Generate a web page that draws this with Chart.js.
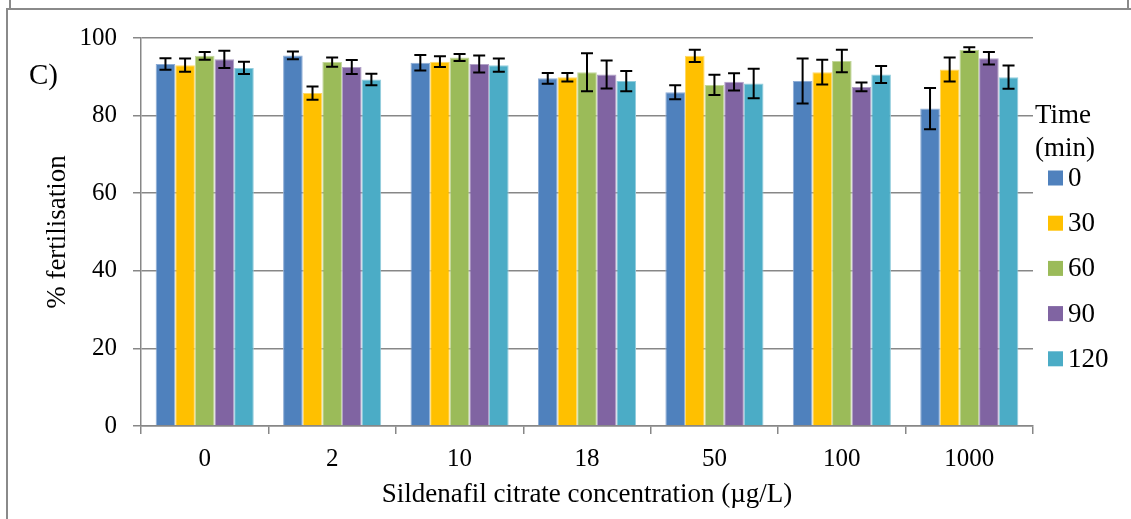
<!DOCTYPE html>
<html>
<head>
<meta charset="utf-8">
<title>Fertilisation vs sildenafil citrate concentration</title>
<script src="https://cdn.jsdelivr.net/npm/chart.js@4/dist/chart.umd.min.js"></script>
<style>
  html, body { margin: 0; padding: 0; background: #ffffff; }
  #wrap { position: relative; width: 1131px; height: 519px; overflow: hidden; }
  .frame { position: absolute; background: #8a8a8a; }
  #chartBox { position: absolute; left: 0; top: 0; width: 1131px; height: 519px; }
</style>
</head>
<body>
<div id="wrap">
  <!-- panel frames -->
  <div class="frame" style="left:9px; top:0; width:2px; height:9px;"></div>
  <div class="frame" style="left:1127px; top:0; width:2px; height:9px;"></div>
  <div class="frame" style="left:7px; top:8px; width:1124px; height:2px;"></div>
  <div class="frame" style="left:6px; top:8px; width:2px; height:511px;"></div>
  <div id="chartBox"><canvas id="chart"></canvas></div>
</div>
<script>
// Sildenafil citrate concentrations (µg/L)
const concentrations = ['0', '2', '10', '18', '50', '100', '1000'];

// Exposure times (min)
const times = ['0', '30', '60', '90', '120'];

// Mean % fertilisation per exposure time
const fert0   = [93.3, 95.5, 93.6, 89.6, 86.0, 88.9, 81.8];
const fert30  = [93.0, 85.8, 93.9, 89.9, 95.4, 91.2, 91.9];
const fert60  = [95.4, 93.8, 95.0, 91.2, 87.9, 94.1, 97.0];
const fert90  = [94.5, 92.5, 93.3, 90.6, 88.7, 87.4, 94.8];
const fert120 = [92.3, 89.3, 93.0, 88.9, 88.3, 90.6, 89.9];

// Standard errors
const err0   = [1.5, 1.0, 2.0, 1.4, 1.8, 5.8, 5.3];
const err30  = [1.7, 1.7, 1.4, 1.1, 1.6, 3.2, 3.1];
const err60  = [1.0, 1.2, 0.9, 4.9, 2.6, 2.9, 0.6];
const err90  = [2.2, 1.8, 2.2, 3.6, 2.2, 1.1, 1.6];
const err120 = [1.6, 1.5, 1.7, 2.6, 3.8, 2.2, 3.0];

// Y axis range
const yMin = 0, yMax = 100, yStep = 20;

const seriesValues = [fert0, fert30, fert60, fert90, fert120];
const seriesErrors = [err0, err30, err60, err90, err120];
const fills   = ['#4F81BD', '#FFC000', '#9BBB59', '#8064A2', '#4BACC6'];
const edges   = ['#8EADD6', '#FFD966', '#C2D69B', '#B2A1C7', '#93CDDD'];

const serif = '"Liberation Serif", "Times New Roman", serif';

// Error bars drawn from each bar's value and its error through the y scale
const errorBars = {
  id: 'errorBars',
  afterDatasetsDraw(chart) {
    const ctx = chart.ctx;
    const yScale = chart.scales.y;
    ctx.save();
    ctx.strokeStyle = '#000000';
    ctx.lineWidth = 2;
    chart.data.datasets.forEach((ds, di) => {
      const meta = chart.getDatasetMeta(di);
      meta.data.forEach((bar, i) => {
        const v = ds.data[i];
        const e = ds.errors[i];
        const x = bar.x;
        const yHi = yScale.getPixelForValue(v + e);
        const yLo = yScale.getPixelForValue(v - e);
        const cap = 6;
        ctx.beginPath();
        ctx.moveTo(x, yHi); ctx.lineTo(x, yLo);
        ctx.moveTo(x - cap, yHi); ctx.lineTo(x + cap, yHi);
        ctx.moveTo(x - cap, yLo); ctx.lineTo(x + cap, yLo);
        ctx.stroke();
      });
    });
    ctx.restore();
  }
};

// Panel label and the time legend on the right of the plot
const panelDecor = {
  id: 'panelDecor',
  afterDraw(chart) {
    const ctx = chart.ctx;
    const area = chart.chartArea;
    ctx.save();
    ctx.fillStyle = '#000000';
    ctx.font = '29px ' + serif;
    ctx.textAlign = 'left';
    ctx.textBaseline = 'middle';
    ctx.fillText('C)', 29, 76);

    const lx = area.right + 2;
    ctx.font = '27px ' + serif;
    ctx.fillText('Time', lx, 116);
    ctx.fillText('(min)', lx, 149);

    chart.data.datasets.forEach((ds, di) => {
      const cy = 178 + di * 45.2;
      ctx.fillStyle = ds.backgroundColor;
      ctx.fillRect(area.right + 15, cy - 7.5, 15, 15);
      ctx.fillStyle = '#000000';
      ctx.fillText(ds.label, area.right + 35, cy + 1);
    });
    ctx.restore();
  }
};

const datasets = times.map((t, i) => ({
  label: t,
  data: seriesValues[i],
  errors: seriesErrors[i],
  backgroundColor: fills[i],
  borderColor: edges[i],
  borderWidth: 1,
  categoryPercentage: 0.77,
  barPercentage: 1.0
}));

new Chart(document.getElementById('chart'), {
  type: 'bar',
  data: { labels: concentrations, datasets },
  options: {
    responsive: true,
    maintainAspectRatio: false,
    animation: false,
    layout: { padding: { top: 38, right: 98, bottom: 0, left: 0 } },
    plugins: {
      legend: { display: false },
      tooltip: { enabled: false }
    },
    scales: {
      x: {
        offset: true,
        afterFit(scale) { scale.height = 93; },
        grid: {
          offset: true,
          drawOnChartArea: false,
          drawTicks: true,
          tickLength: 8,
          color: '#878787',
          lineWidth: 1.5
        },
        border: { color: '#878787', width: 1.5 },
        ticks: {
          color: '#000000',
          font: { family: serif, size: 25 },
          padding: 10,
          maxRotation: 0
        },
        title: {
          display: true,
          text: 'Sildenafil citrate concentration (µg/L)',
          color: '#000000',
          font: { family: serif, size: 27 },
          padding: { top: 0, bottom: 8 }
        }
      },
      y: {
        min: yMin,
        max: yMax,
        afterFit(scale) { scale.width = 141; },
        grid: {
          color: '#878787',
          lineWidth: 1.5,
          drawTicks: true,
          tickLength: 8
        },
        border: { color: '#878787', width: 1.5 },
        ticks: {
          stepSize: yStep,
          color: '#000000',
          font: { family: serif, size: 25 },
          padding: 16
        },
        title: {
          display: true,
          text: '% fertilisation',
          color: '#000000',
          font: { family: serif, size: 27 },
          padding: { top: 42, bottom: 0 }
        }
      }
    }
  },
  plugins: [errorBars, panelDecor]
});
</script>
</body>
</html>
